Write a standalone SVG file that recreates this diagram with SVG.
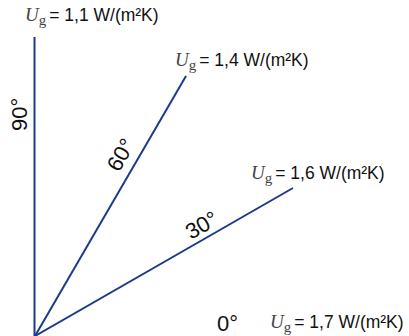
<svg xmlns="http://www.w3.org/2000/svg" width="409" height="336" viewBox="0 0 409 336">
<style>
.ln{stroke:#1b3a8c;stroke-width:2;fill:none}
.u{font-family:"Liberation Serif",serif;font-style:italic;font-size:19px;fill:#444}
.g{font-family:"Liberation Serif",serif;font-size:15px;fill:#444}
.t{font-family:"Liberation Sans",Arial,sans-serif;font-size:17.5px;fill:#111}
.a{font-family:"Liberation Sans",Arial,sans-serif;font-size:22px;fill:#111}
</style>
<rect width="409" height="336" fill="#fff"/>
<g id="connectors">
<line class="ln" x1="34.5" y1="336" x2="34.5" y2="37"/>
<line class="ln" x1="35" y1="336" x2="186" y2="76"/>
<line class="ln" x1="35" y1="336" x2="293" y2="188"/>
</g>
<g id="label-90"><text class="a" transform="translate(27,131) rotate(-90)">90°</text></g>
<g id="label-60"><text class="a" transform="translate(119,173) rotate(-60)">60°</text></g>
<g id="label-30"><text class="a" transform="translate(191,240) rotate(-30)">30°</text></g>
<g id="label-0"><text class="a" x="217" y="331">0°</text></g>
<g id="ug-11"><text x="25" y="21"><tspan class="u">U</tspan><tspan class="g" dy="4">g</tspan><tspan class="t" dy="-4" dx="3">= 1,1 W/(m²K)</tspan></text></g>
<g id="ug-14"><text x="175" y="66"><tspan class="u">U</tspan><tspan class="g" dy="4">g</tspan><tspan class="t" dy="-4" dx="3">= 1,4 W/(m²K)</tspan></text></g>
<g id="ug-16"><text x="251" y="179"><tspan class="u">U</tspan><tspan class="g" dy="4">g</tspan><tspan class="t" dy="-4" dx="3">= 1,6 W/(m²K)</tspan></text></g>
<g id="ug-17"><text x="270" y="328"><tspan class="u">U</tspan><tspan class="g" dy="4">g</tspan><tspan class="t" dy="-4" dx="3">= 1,7 W/(m²K)</tspan></text></g>
</svg>
